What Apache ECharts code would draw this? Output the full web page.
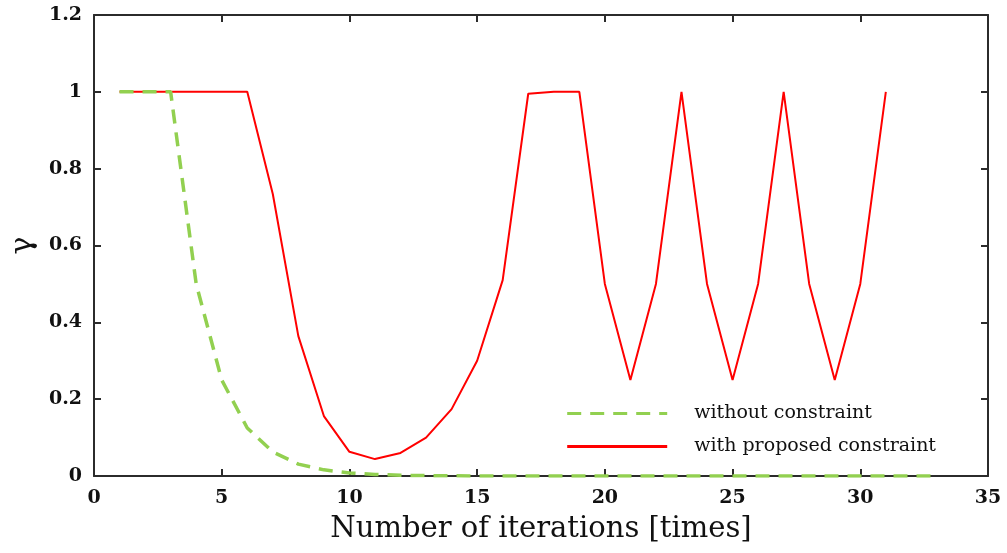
<!DOCTYPE html>
<html>
<head>
<meta charset="utf-8">
<script src="https://cdn.jsdelivr.net/npm/echarts@6/dist/echarts.min.js"></script>
<style>
  html, body { margin: 0; padding: 0; background: #fff; }
  #main { width: 1007px; height: 553px; }
</style>
</head>
<body>
<div id="main"></div>
<script>
var font = '"DejaVu Serif", "Liberation Serif", serif';

var xWithout = [1,2,3,4,5,6,7,8,9,10,11,12,13,14,15,16,17,18,19,20,21,22,23,24,25,26,27,28,29,30,31,32,33];
var yWithout = [1,1,1,0.5,0.25,0.125,0.0625,0.031,0.016,0.008,0.004,0.002,0.001,0.0005,0.0002,0.0001,0,0,0,0,0,0,0,0,0,0,0,0,0,0,0,0,0];

var xWith = [1,2,3,4,5,6,7,8,9,10,11,12,13,14,15,16,17,18,19,20,21,22,23,24,25,26,27,28,29,30,31];
var yWith = [1,1,1,1,1,1,0.734,0.364,0.156,0.063,0.044,0.06,0.1,0.174,0.3,0.51,0.995,1,1,0.5,0.25,0.5,1,0.5,0.25,0.5,1,0.5,0.25,0.5,1];

var xTicks = [0,5,10,15,20,25,30,35];
var yTicks = [0,0.2,0.4,0.6,0.8,1,1.2];

var seriesNames = ['without constraint', 'with proposed constraint'];

function pairs(xs, ys) {
    var out = [];
    for (var i = 0; i < xs.length; i++) out.push([xs[i], ys[i]]);
    return out;
}

var myChart = echarts.init(document.getElementById('main'));
var axisLine = { show: true, onZero: false, lineStyle: { color: '#2b2b2b', width: 2 } };
var tick = { show: true, inside: true, length: 7, lineStyle: { color: '#2b2b2b', width: 2 } };

option = {
    animation: false,
    backgroundColor: '#fff',
    grid: { left: 94, top: 15, right: 19, bottom: 77, outerBoundsMode: 'none', containLabel: false },
    legend: {
        right: 66,
        top: 399,
        orient: 'vertical',
        itemWidth: 100,
        itemHeight: 14,
        itemGap: 14,
        itemStyle: { opacity: 0 },
        lineStyle: { width: 3 },
        textStyle: { fontFamily: font, fontSize: 19, color: '#111', padding: [0, 0, 0, 22] },
        data: seriesNames
    },
    xAxis: [
        {
            type: 'value', min: 0, max: 35, interval: 5,
            axisLine: axisLine, axisTick: tick, splitLine: { show: false },
            axisLabel: {
                fontFamily: font, fontSize: 19, fontWeight: 'bold', color: '#111', margin: 13,
                formatter: function (v) { return xTicks.indexOf(v) >= 0 ? String(v) : ''; }
            },
            name: 'Number of iterations [times]',
            nameLocation: 'middle', nameGap: 39,
            nameTextStyle: { fontFamily: font, fontSize: 29, color: '#111' }
        },
        {
            type: 'value', min: 0, max: 35, interval: 5, position: 'top',
            axisLine: axisLine, axisTick: tick, axisLabel: { show: false }, splitLine: { show: false }
        }
    ],
    yAxis: [
        {
            type: 'value', min: 0, max: 1.2, interval: 0.2,
            axisLine: axisLine, axisTick: tick, splitLine: { show: false },
            axisLabel: {
                fontFamily: font, fontSize: 19, fontWeight: 'bold', color: '#111', margin: 12,
                formatter: function (v) {
                    var r = Math.round(v * 10) / 10;
                    return yTicks.indexOf(r) >= 0 ? String(r) : '';
                }
            },
            name: 'γ',
            nameLocation: 'middle', nameGap: 56, nameRotate: 90,
            nameTextStyle: { fontFamily: font, fontSize: 30, color: '#111' }
        },
        {
            type: 'value', min: 0, max: 1.2, interval: 0.2, position: 'right',
            axisLine: axisLine, axisTick: tick, axisLabel: { show: false }, splitLine: { show: false }
        }
    ],
    series: [
        {
            name: seriesNames[0],
            type: 'line',
            data: pairs(xWithout, yWithout),
            symbol: 'none',
            z: 3,
            itemStyle: { color: '#92d050' },
            lineStyle: { color: '#92d050', width: 3.5, type: [14, 9] }
        },
        {
            name: seriesNames[1],
            type: 'line',
            data: pairs(xWith, yWith),
            symbol: 'none',
            z: 2,
            itemStyle: { color: '#ff0000' },
            lineStyle: { color: '#ff0000', width: 2 }
        }
    ]
};
myChart.setOption(option, true);
</script>
</body>
</html>
